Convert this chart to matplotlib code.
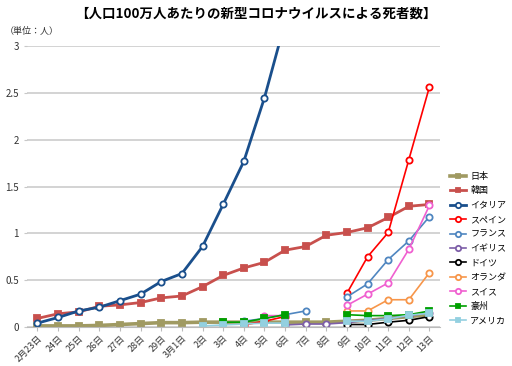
import numpy as np
import matplotlib
matplotlib.use("Agg")
import matplotlib.pyplot as plt

plt.rcParams['font.family'] = ['Noto Sans CJK JP', 'DejaVu Sans']

nan = np.nan

# Dates (x categories)
dates = ['2月23日', '24日', '25日', '26日', '27日', '28日', '29日', '3月1日', '2日', '3日',
         '4日', '5日', '6日', '7日', '8日', '9日', '10日', '11日', '12日', '13日']

# Deaths per million people
japan = [0.01, 0.01, 0.01, 0.015, 0.025, 0.035, 0.045, 0.045, 0.05, 0.05,
         0.05, 0.05, 0.05, 0.05, 0.05, 0.06, 0.07, 0.09, 0.11, 0.13]
korea = [0.09, 0.14, 0.16, 0.22, 0.235, 0.26, 0.31, 0.33, 0.43, 0.55,
         0.63, 0.69, 0.82, 0.86, 0.98, 1.01, 1.06, 1.17, 1.29, 1.31]
italy = [0.04, 0.10, 0.17, 0.21, 0.28, 0.35, 0.485, 0.57, 0.86, 1.31,
         1.77, 2.45, 3.26, nan, nan, nan, nan, nan, nan, nan]
spain = [nan, nan, nan, nan, nan, nan, nan, nan, nan, nan,
         0.02, 0.06, 0.11, nan, nan, 0.36, 0.75, 1.01, 1.79, 2.57]
france = [nan, nan, nan, nan, nan, nan, nan, nan, nan, nan,
          0.06, 0.09, 0.13, 0.17, nan, 0.32, 0.46, 0.72, 0.92, 1.18]
uk = [nan, nan, nan, nan, nan, nan, nan, nan, nan, nan,
      nan, nan, 0.02, 0.03, 0.03, 0.045, 0.07, 0.09, 0.12, 0.15]
germany = [nan, nan, nan, nan, nan, nan, nan, nan, nan, nan,
           nan, nan, nan, nan, nan, 0.025, 0.025, 0.05, 0.07, 0.11]
netherlands = [nan, nan, nan, nan, nan, nan, nan, nan, nan, nan,
               nan, nan, nan, nan, nan, 0.17, 0.17, 0.29, 0.29, 0.58]
swiss = [nan, nan, nan, nan, nan, nan, nan, nan, nan, nan,
         nan, 0.12, 0.12, nan, nan, 0.23, 0.35, 0.47, 0.83, 1.30]
australia = [nan, nan, nan, nan, nan, nan, nan, nan, nan, 0.05,
             0.05, 0.09, 0.13, nan, nan, 0.13, 0.12, 0.12, 0.13, 0.17]
usa = [nan, nan, nan, nan, nan, nan, nan, nan, 0.01, 0.02,
       0.03, 0.04, 0.04, nan, nan, 0.06, 0.06, 0.085, 0.125, 0.145]

# name, values, color, marker, filled, linewidth
series = [
    ('日本', japan, '#a09a62', 's', True, 2.6),
    ('韓国', korea, '#c8504d', 's', True, 2.0),
    ('イタリア', italy, '#1a4f8c', 'o', False, 2.0),
    ('スペイン', spain, '#ff0000', 'o', False, 1.2),
    ('フランス', france, '#4f86c0', 'o', False, 1.2),
    ('イギリス', uk, '#7d5ea8', 'o', False, 1.2),
    ('ドイツ', germany, '#000000', 'o', False, 1.2),
    ('オランダ', netherlands, '#f7964a', 'o', False, 1.2),
    ('スイス', swiss, '#f060d0', 'o', False, 1.2),
    ('豪州', australia, '#00a000', 's', True, 1.2),
    ('アメリカ', usa, '#93d0e0', 's', True, 1.2),
]

fig = plt.figure(figsize=(5.12, 3.66), dpi=100)
ax = fig.add_axes([0.053, 0.107, 0.806, 0.766])

x = np.arange(len(dates))
for name, vals, col, mk, filled, lw in series:
    ax.plot(x, vals, color=col, lw=lw, marker=mk,
            markersize=4.5 if mk == 'o' else 4,
            markerfacecolor=col if filled else 'white',
            markeredgecolor=col, markeredgewidth=1.3, label=name)

ax.set_xlim(-0.5, len(dates) - 0.5)
ax.set_ylim(0, 3)
ax.set_yticks([0, 0.5, 1, 1.5, 2, 2.5, 3])
ax.set_yticklabels(['0', '0.5', '1', '1.5', '2', '2.5', '3'])
ax.yaxis.grid(True, color='#c8c8c8', lw=1.1)
ax.set_axisbelow(True)
ax.set_xticks(x)
ax.set_xticklabels(dates, rotation=45, ha='right', rotation_mode='anchor')
ax.tick_params(axis='y', length=2, color='#c8c8c8', labelsize=7, pad=4, labelcolor='#333333')
ax.tick_params(axis='x', length=3, color='#bbbbbb', labelsize=6.5, pad=2, labelcolor='#333333')
for s in ['top', 'right', 'left']:
    ax.spines[s].set_visible(False)
ax.spines['bottom'].set_color('#bbbbbb')

fig.text(0.5, 0.962, '【人口100万人あたりの新型コロナウイルスによる死者数】',
         ha='center', va='center', fontsize=9.7, fontweight='bold')
fig.text(0.01, 0.915, '（単位：人）', ha='left', va='center', fontsize=6.5, color='#333333')

ax.legend(loc='upper left', bbox_to_anchor=(1.015, 0.565), frameon=False,
          fontsize=6.5, handlelength=1.8, labelspacing=0.6, borderaxespad=0,
          handletextpad=0.5, markerscale=0.85)

fig.savefig('out.png', dpi=100)
